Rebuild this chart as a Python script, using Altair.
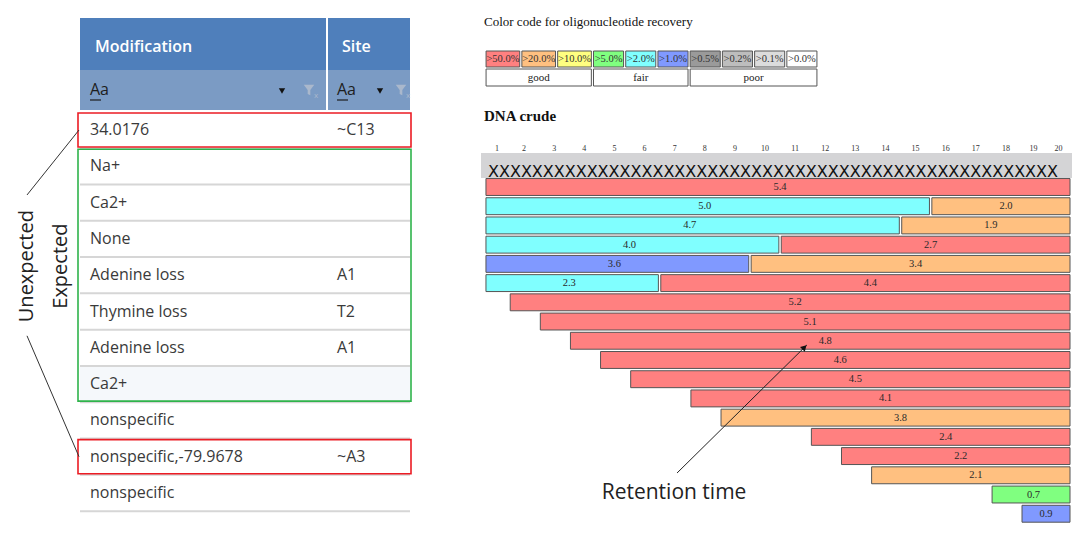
import altair as alt
import pandas as pd

# ---------------- data ----------------
table_columns = ["Modification", "Site"]
modifications = ["34.0176", "Na+", "Ca2+", "None", "Adenine loss", "Thymine loss",
                 "Adenine loss", "Ca2+", "nonspecific", "nonspecific,-79.9678", "nonspecific"]
sites = ["~C13", "", "", "", "A1", "T2", "A1", "", "", "~A3", ""]
box_kinds = ["Unexpected", "Expected", "Unexpected"]
box_first_row = [0, 1, 9]
box_last_row = [0, 7, 9]
connector_label_row = [1.79, 5.67]
connector_box_row = [0, 9]

legend_labels = [">50.0%", ">20.0%", ">10.0%", ">5.0%", ">2.0%", ">1.0%",
                 ">0.5%", ">0.2%", ">0.1%", ">0.0%"]
legend_colors = ["#ff8080", "#ffc080", "#ffff80", "#80ff80", "#80ffff", "#8099ff",
                 "#9a9a9a", "#bdbdbd", "#dcdcdc", "#ffffff"]
quality_groups = ["good", "fair", "poor"]
quality_group_sizes = [3, 3, 4]

ruler_positions = list(range(1, 21))
sequence_text = "XXXXXXXXXXXXXXXXXXXXXXXXXXXXXXXXXXXXXXXXXXXXXXXXXXXX"

bar_rows = [1, 2, 2, 3, 3, 4, 4, 5, 5, 6, 6, 7, 8, 9, 10, 11, 12, 13, 14, 15, 16, 17, 18]
bar_starts = [1, 1, 16, 1, 15, 1, 11, 1, 10, 1, 7, 2, 3, 4, 5, 6, 8, 9, 12, 13, 14, 18, 19]
bar_ends = [20, 15, 20, 14, 20, 10, 20, 9, 20, 6, 20, 20, 20, 20, 20, 20, 20, 20, 20, 20, 20, 20, 20]
bar_values = ["5.4", "5.0", "2.0", "4.7", "1.9", "4.0", "2.7", "3.6", "3.4", "2.3", "4.4",
              "5.2", "5.1", "4.8", "4.6", "4.5", "4.1", "3.8", "2.4", "2.2", "2.1", "0.7", "0.9"]
bar_recovery = [">50.0%", ">2.0%", ">20.0%", ">2.0%", ">20.0%", ">2.0%", ">50.0%", ">1.0%",
                ">20.0%", ">2.0%", ">50.0%", ">50.0%", ">50.0%", ">50.0%", ">50.0%", ">50.0%",
                ">50.0%", ">20.0%", ">50.0%", ">50.0%", ">20.0%", ">5.0%", ">1.0%"]

arrow_from = (7.08, 15.88)
arrow_to = (11.39, 9.22)
arrow_label = "Retention time"

# ---------------- styles ----------------
SANS = "Open Sans"
SERIF = "Liberation Serif"
one = pd.DataFrame({"k": [0]})

# ================= LEFT PANEL: table =================
WL, HL = 462, 519
PL = 36.3
L_D0 = -122 / PL
yL = alt.Scale(domain=[L_D0, L_D0 + HL / PL], reverse=True, nice=False, zero=False)
xCol = alt.Scale(domain=table_columns, range=[82, 329], padding=0)

rows_df = pd.DataFrame({"row": list(range(len(modifications))),
                        "modification": modifications, "site": sites})
cells_df = pd.DataFrame({
    "row": list(range(len(modifications))) * 2,
    "col": ["Modification"] * len(modifications) + ["Site"] * len(sites),
    "text": modifications + sites,
})
cols_df = pd.DataFrame({"col": table_columns})
boxes_df = pd.DataFrame({"kind": box_kinds, "first": box_first_row, "last": box_last_row})
conn_df = pd.DataFrame({"a": connector_label_row, "b": connector_box_row})

header_bg = alt.Chart(one).mark_rect(color="#4f7fbb").encode(
    x=alt.value(72), x2=alt.value(402), y=alt.value(10), y2=alt.value(62))
filter_bg = alt.Chart(one).mark_rect(color="#7b9bc4").encode(
    x=alt.value(72), x2=alt.value(402), y=alt.value(62), y2=alt.value(102))
col_sep = alt.Chart(one).mark_rule(color="white", strokeWidth=2).encode(
    x=alt.value(319), y=alt.value(10), y2=alt.value(102))
header_text = alt.Chart(cols_df).mark_text(
    align="left", baseline="middle", dx=5, font=SANS, fontSize=16, fontWeight=600,
    color="white").encode(
    x=alt.X("col:N", scale=xCol, axis=None), y=alt.value(39), text="col:N")
filter_text = alt.Chart(cols_df).mark_text(
    align="left", baseline="middle", font=SANS, fontSize=16, color="#1e1e1e").encode(
    x=alt.X("col:N", scale=xCol, axis=None), y=alt.value(82), text=alt.value("Aa"))
underline1 = alt.Chart(one).mark_rule(color="#1e1e1e", strokeWidth=1.2).encode(
    x=alt.value(82), x2=alt.value(93), y=alt.value(92))
underline2 = alt.Chart(one).mark_rule(color="#1e1e1e", strokeWidth=1.2).encode(
    x=alt.value(329), x2=alt.value(340), y=alt.value(92))
tri1 = alt.Chart(one).mark_point(shape="triangle-down", filled=True, size=40,
                                 color="#111111", opacity=1).encode(
    x=alt.value(274), y=alt.value(83))
tri2 = alt.Chart(one).mark_point(shape="triangle-down", filled=True, size=40,
                                 color="#111111", opacity=1).encode(
    x=alt.value(372), y=alt.value(83))
FUNNEL = "M-1,-1L1,-1L0.25,0L0.25,1L-0.25,0.75L-0.25,0Z"
fun1 = alt.Chart(one).mark_point(shape=FUNNEL, filled=True, size=110,
                                 color="#aab8cc", opacity=1).encode(
    x=alt.value(301), y=alt.value(82))
fun2 = alt.Chart(one).mark_point(shape=FUNNEL, filled=True, size=110,
                                 color="#aab8cc", opacity=1).encode(
    x=alt.value(393), y=alt.value(82))
funx1 = alt.Chart(one).mark_text(text="x", fontSize=8, color="#aab8cc", font=SANS).encode(
    x=alt.value(308), y=alt.value(88))
funx2 = alt.Chart(one).mark_text(text="x", fontSize=8, color="#aab8cc", font=SANS).encode(
    x=alt.value(400), y=alt.value(88))

selected_bg = alt.Chart(rows_df).transform_filter("datum.row == 7").transform_calculate(
    y0="datum.row - 0.5", y1="datum.row + 0.5").mark_rect(color="#f5f8fb").encode(
    x=alt.value(72), x2=alt.value(402),
    y=alt.Y("y0:Q", scale=yL, axis=None), y2="y1:Q")
separators = alt.Chart(rows_df).transform_calculate(sep="datum.row + 0.5").mark_rule(
    color="#d6d6d6", strokeWidth=2).encode(
    x=alt.value(72), x2=alt.value(402), y=alt.Y("sep:Q", scale=yL, axis=None))
boxes = alt.Chart(boxes_df).transform_calculate(
    y0="datum.first - 0.47", y1="datum.last + 0.47").mark_rect(
    fillOpacity=0, strokeWidth=1.6).encode(
    x=alt.value(70), x2=alt.value(403),
    y=alt.Y("y0:Q", scale=yL, axis=None), y2="y1:Q",
    stroke=alt.Stroke("kind:N", scale=alt.Scale(domain=["Unexpected", "Expected"],
                                                range=["#ec1c24", "#2fb34b"]), legend=None))
cell_text = alt.Chart(cells_df).mark_text(
    align="left", baseline="middle", font=SANS, fontSize=16, color="#3a3a3a").encode(
    x=alt.X("col:N", scale=xCol, axis=None),
    y=alt.Y("row:Q", scale=yL, axis=None), text="text:N")
lab_unexp = alt.Chart(one).mark_text(
    text="Unexpected", angle=270, font=SANS, fontSize=20, color="#222222",
    baseline="middle", align="center").encode(
    x=alt.value(19), y=alt.Y(datum=3.75, scale=yL, axis=None))
lab_exp = alt.Chart(one).mark_text(
    text="Expected", angle=270, font=SANS, fontSize=20, color="#222222",
    baseline="middle", align="center").encode(
    x=alt.value(53), y=alt.Y(datum=3.75, scale=yL, axis=None))
connectors = alt.Chart(conn_df).mark_rule(color="#333333", strokeWidth=1).encode(
    x=alt.value(19), x2=alt.value(71),
    y=alt.Y("a:Q", scale=yL, axis=None), y2="b:Q")

left = alt.layer(
    header_bg, filter_bg, col_sep, header_text, filter_text, underline1, underline2,
    tri1, tri2, fun1, fun2, funx1, funx2,
    selected_bg, separators, boxes, cell_text, lab_unexp, lab_exp, connectors,
).properties(width=WL, height=HL)

# ================= RIGHT TOP: legend =================
WR, HT, HB = 602, 122, 397
leg = pd.DataFrame({"label": legend_labels, "color": legend_colors})
leg["units"] = leg["label"].str.len() + 4
leg["end"] = leg["units"].cumsum()
leg["start"] = leg["end"] - leg["units"]
total_units = int(leg["units"].sum())
xLeg = alt.Scale(domain=[0, total_units], range=[15, 348], nice=False, zero=False)

g_start, g_end = [], []
idx = 0
for n in quality_group_sizes:
    g_start.append(int(leg["start"].iloc[idx]))
    g_end.append(int(leg["end"].iloc[idx + n - 1]))
    idx += n
grp = pd.DataFrame({"group": quality_groups, "start": g_start, "end": g_end})

title_text = alt.Chart(one).mark_text(
    text="Color code for oligonucleotide recovery", align="left", baseline="middle",
    font=SERIF, fontSize=13, color="#111111").encode(x=alt.value(14), y=alt.value(14))
leg_rect = alt.Chart(leg).transform_calculate(
    x0="datum.start + 0.3", x1="datum.end - 0.3").mark_rect(
    stroke="#555555", strokeWidth=1).encode(
    x=alt.X("x0:Q", scale=xLeg, axis=None), x2="x1:Q",
    y=alt.value(43), y2=alt.value(59),
    fill=alt.Fill("color:N", scale=None))
leg_text = alt.Chart(leg).transform_calculate(mid="(datum.start + datum.end) / 2").mark_text(
    baseline="middle", align="center", font=SERIF, fontSize=10.5, color="#333333").encode(
    x=alt.X("mid:Q", scale=xLeg, axis=None), y=alt.value(51), text="label:N")
grp_rect = alt.Chart(grp).transform_calculate(
    x0="datum.start + 0.3", x1="datum.end - 0.3").mark_rect(
    stroke="#555555", strokeWidth=1, fill="white").encode(
    x=alt.X("x0:Q", scale=xLeg, axis=None), x2="x1:Q",
    y=alt.value(61), y2=alt.value(78))
grp_text = alt.Chart(grp).transform_calculate(mid="(datum.start + datum.end) / 2").mark_text(
    baseline="middle", align="center", font=SERIF, fontSize=11, color="#222222").encode(
    x=alt.X("mid:Q", scale=xLeg, axis=None), y=alt.value(70), text="group:N")
dna_title = alt.Chart(one).mark_text(
    text="DNA crude", align="left", baseline="middle", font=SERIF, fontSize=15,
    fontWeight="bold", color="#111111").encode(x=alt.value(14), y=alt.value(108))

top = alt.layer(title_text, leg_rect, leg_text, grp_rect, grp_text, dna_title).properties(
    width=WR, height=HT)

# ================= RIGHT BOTTOM: fragments =================
PR = 19.22
R_D0 = 1 - 57 / PR
yR = alt.Scale(domain=[R_D0, R_D0 + HB / PR], reverse=True, nice=False, zero=False)
xR = alt.Scale(domain=[0.5, 1.5, 18.5, 20.5], range=[15, 39, 551, 601],
               nice=False, zero=False)

bars = pd.DataFrame({"row": bar_rows, "start": bar_starts, "end": bar_ends,
                     "value": bar_values, "recovery": bar_recovery})
ruler = pd.DataFrame({"pos": ruler_positions})

ruler_text = alt.Chart(ruler).mark_text(
    baseline="middle", align="center", font=SERIF, fontSize=8, color="#333333").encode(
    x=alt.X("pos:Q", scale=xR, axis=None), y=alt.value(19), text="pos:Q")
band = alt.Chart(one).mark_rect(color="#d4d4d6").encode(
    x=alt.value(11), x2=alt.value(602), y=alt.value(23), y2=alt.value(48))
seq = alt.Chart(one).mark_text(
    text=sequence_text, align="left", baseline="alphabetic", font="DejaVu Sans",
    fontSize=16, color="#111111").encode(x=alt.value(18), y=alt.value(47))
bar_rect = alt.Chart(bars).transform_calculate(
    x0="datum.start - 0.5 + 0.04", x1="datum.end + 0.5 - 0.04",
    y0="datum.row - 0.44", y1="datum.row + 0.44").mark_rect(
    stroke="#555555", strokeWidth=1).encode(
    x=alt.X("x0:Q", scale=xR, axis=None), x2="x1:Q",
    y=alt.Y("y0:Q", scale=yR, axis=None), y2="y1:Q",
    fill=alt.Fill("recovery:N", scale=alt.Scale(domain=legend_labels, range=legend_colors),
                  legend=None))
bar_text = alt.Chart(bars).transform_calculate(mid="(datum.start + datum.end) / 2").mark_text(
    baseline="middle", align="center", font=SERIF, fontSize=10.5, color="#2a2a2a").encode(
    x=alt.X("mid:Q", scale=xR, axis=None), y=alt.Y("row:Q", scale=yR, axis=None),
    text="value:N")
arrow_line = alt.Chart(one).mark_rule(color="#222222", strokeWidth=1).encode(
    x=alt.X(datum=arrow_from[0], scale=xR, axis=None), x2=alt.X2(datum=arrow_to[0]),
    y=alt.Y(datum=arrow_from[1], scale=yR, axis=None), y2=alt.Y2(datum=arrow_to[1]))
arrow_head = alt.Chart(one).mark_point(
    shape="triangle-up", angle=45, filled=True, size=45, color="#111111", opacity=1).encode(
    x=alt.X(datum=arrow_to[0] - 0.08, scale=xR, axis=None),
    y=alt.Y(datum=arrow_to[1] + 0.12, scale=yR, axis=None))
arrow_text = alt.Chart(one).mark_text(
    text=arrow_label, align="center", baseline="middle", font=SANS, fontSize=21,
    color="#222222").encode(
    x=alt.X(datum=6.98, scale=xR, axis=None), y=alt.Y(datum=16.92, scale=yR, axis=None))

bottom = alt.layer(ruler_text, band, seq, bar_rect, bar_text, arrow_line, arrow_head,
                   arrow_text).properties(width=WR, height=HB)

right = alt.vconcat(top, bottom, spacing=0, bounds="flush")
chart = alt.hconcat(left, right, spacing=0, bounds="flush").configure_view(
    stroke=None).properties(padding=0)

chart.save("out.html", embed_options={"renderer": "svg", "actions": False})
